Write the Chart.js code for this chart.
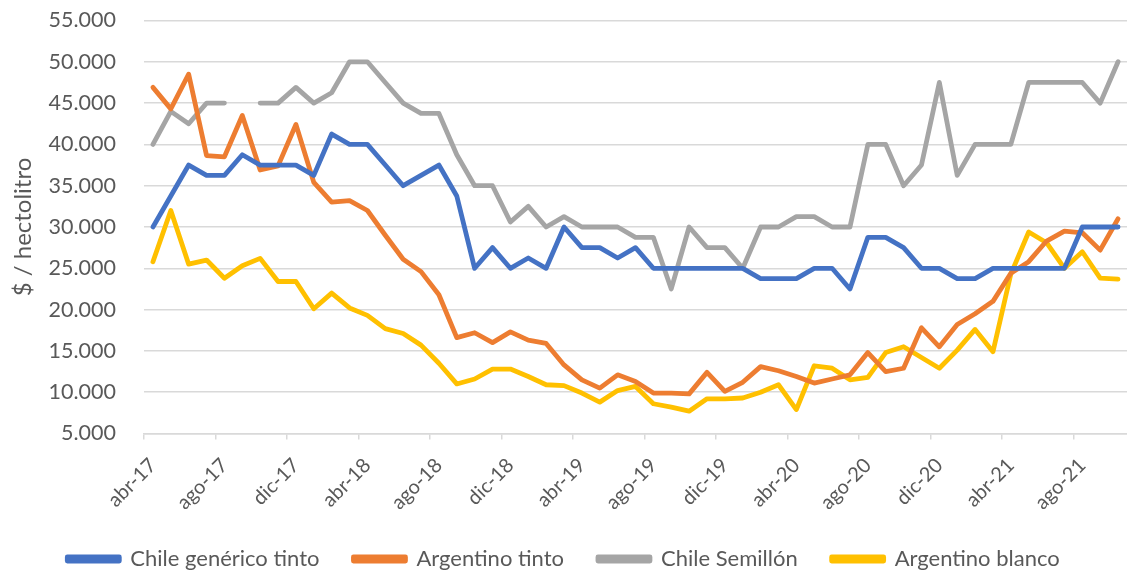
<!DOCTYPE html>
<html>
<head>
<meta charset="utf-8">
<script src="https://cdn.jsdelivr.net/npm/chart.js@4.4.1/dist/chart.umd.min.js"></script>
<style>
  body { margin: 0; background: #fff; }
  canvas { display: block; }
</style>
</head>
<body>
<canvas id="myChart" width="1127" height="571"></canvas>
<script>
// meses (abr-17 .. oct-21)
const labels = [
  'abr-17','may-17','jun-17','jul-17','ago-17','sep-17','oct-17','nov-17','dic-17',
  'ene-18','feb-18','mar-18','abr-18','may-18','jun-18','jul-18','ago-18','sep-18','oct-18','nov-18','dic-18',
  'ene-19','feb-19','mar-19','abr-19','may-19','jun-19','jul-19','ago-19','sep-19','oct-19','nov-19','dic-19',
  'ene-20','feb-20','mar-20','abr-20','may-20','jun-20','jul-20','ago-20','sep-20','oct-20','nov-20','dic-20',
  'ene-21','feb-21','mar-21','abr-21','may-21','jun-21','jul-21','ago-21','sep-21','oct-21'
];

const chileTinto = [
  30000, 33750, 37500, 36250, 36250, 38750, 37500, 37500, 37500, 36250, 41250, 40000, 40000,
  37500, 35000, 36250, 37500, 33750, 25000, 27500, 25000, 26250, 25000, 30000, 27500, 27500,
  26250, 27500, 25000, 25000, 25000, 25000, 25000, 25000, 23750, 23750, 23750, 25000, 25000,
  22500, 28750, 28750, 27500, 25000, 25000, 23750, 23750, 25000, 25000, 25000, 25000, 25000,
  30000, 30000, 30000
];

const argentinoTinto = [
  46900, 44300, 48500, 38650, 38500, 43500, 36900, 37400, 42400, 35400, 33000, 33200, 32000,
  29000, 26100, 24600, 21800, 16600, 17200, 16000, 17300, 16300, 15900, 13300, 11500, 10500,
  12100, 11300, 9900, 9900, 9800, 12400, 10100, 11200, 13100, 12600, 11900, 11100, 11600,
  12100, 14800, 12500, 12900, 17800, 15500, 18200, 19500, 21000, 24400, 25800, 28300, 29500,
  29300, 27200, 31000
];

const chileSemillon = [
  40000, 44000, 42500, 45000, 45000, null, 45000, 45000, 46900, 45000, 46250, 50000, 50000,
  47500, 45000, 43750, 43750, 38750, 35000, 35000, 30600, 32500, 30000, 31250, 30000, 30000,
  30000, 28750, 28750, 22500, 30000, 27500, 27500, 25000, 30000, 30000, 31250, 31250, 30000,
  30000, 40000, 40000, 35000, 37500, 47500, 36250, 40000, 40000, 40000, 47500, 47500, 47500,
  47500, 45000, 50000
];

const argentinoBlanco = [
  25800, 32000, 25500, 26000, 23800, 25300, 26200, 23400, 23400, 20100, 22000, 20200, 19300,
  17700, 17100, 15700, 13500, 11000, 11600, 12800, 12800, 11900, 10900, 10800, 9900, 8800,
  10200, 10700, 8600, 8200, 7700, 9200, 9200, 9300, 10000, 10900, 7900, 13200, 12900,
  11500, 11800, 14800, 15500, 14200, 12900, 15100, 17600, 14900, 24300, 29400, 28100, 25000,
  27000, 23800, 23700
];

const yTicks = [5000, 55000, 5000]; // min, max, paso

const textColor = '#595959';
const gridColor = '#d9d9d9';
const fontFamily = 'Lato, "Open Sans", sans-serif';

function fmt(v) {
  return String(v).replace(/\B(?=(\d{3})+(?!\d))/g, '.');
}

function serie(label, data, color) {
  return {
    label: label,
    data: data,
    borderColor: color,
    backgroundColor: color,
    borderWidth: 4.8,
    borderJoinStyle: 'round',
    borderCapStyle: 'round',
    pointRadius: 0,
    pointHoverRadius: 0,
    tension: 0,
    spanGaps: false
  };
}

const ctx = document.getElementById('myChart').getContext('2d');

new Chart(ctx, {
  type: 'line',
  data: {
    labels: labels,
    datasets: [
      serie('Chile genérico tinto', chileTinto, '#4472C4'),
      serie('Argentino tinto', argentinoTinto, '#ED7D31'),
      serie('Chile Semillón', chileSemillon, '#A5A5A5'),
      serie('Argentino blanco', argentinoBlanco, '#FFC000')
    ]
  },
  options: {
    responsive: false,
    animation: false,
    events: [],
    layout: { padding: { top: 0, right: 0, bottom: -9, left: 0 } },
    plugins: {
      tooltip: { enabled: false },
      legend: {
        position: 'bottom',
        labels: {
          color: textColor,
          font: { family: fontFamily, size: 22 },
          boxWidth: 52,
          boxHeight: 4,
          padding: 34
        }
      }
    },
    scales: {
      x: {
        offset: true,
        afterFit: (s) => { s.height = 80.5; s.paddingLeft = 0; s.paddingRight = 0; },
        grid: {
          offset: true,
          drawOnChartArea: false,
          tickLength: 6,
          lineWidth: 1.5,
          color: (c) => (c.index % 4 === 0 ? gridColor : 'rgba(0,0,0,0)')
        },
        border: { display: true, color: gridColor, width: 1.5 },
        ticks: {
          autoSkip: false,
          minRotation: 45,
          maxRotation: 45,
          padding: 14,
          color: textColor,
          font: { family: fontFamily, size: 20 },
          callback: function (val, i) { return i % 4 === 0 ? this.getLabelForValue(val) : ''; }
        }
      },
      y: {
        min: yTicks[0],
        max: yTicks[1],
        afterFit: (s) => { s.width = 144; s.paddingTop = 20.5; s.paddingBottom = 0; },
        grid: { color: gridColor, lineWidth: 1.5, drawTicks: false },
        border: { display: false },
        ticks: {
          stepSize: yTicks[2],
          padding: 28,
          color: textColor,
          font: { family: fontFamily, size: 21.5 },
          callback: (v) => fmt(v)
        },
        title: {
          display: true,
          text: '$ / hectolitro',
          color: textColor,
          font: { family: fontFamily, size: 24 },
          padding: { top: 9, bottom: 0 }
        }
      }
    }
  }
});
</script>
</body>
</html>
